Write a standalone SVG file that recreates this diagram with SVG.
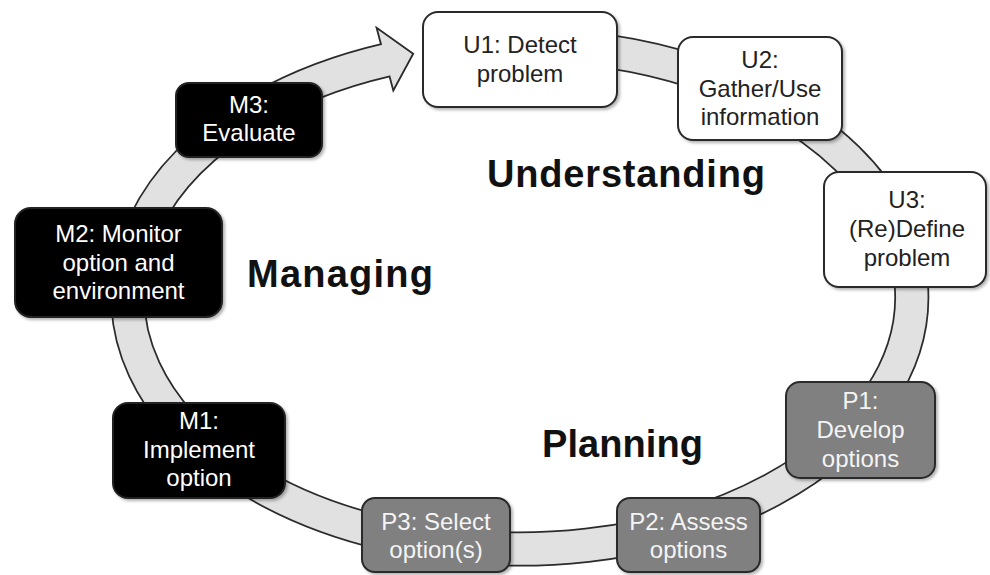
<svg xmlns="http://www.w3.org/2000/svg" width="990" height="575" viewBox="0 0 990 575">
<style>
.t{font-family:"Liberation Sans",Arial,sans-serif;font-size:24px;text-anchor:middle}
.big{font-family:"Liberation Sans",Arial,sans-serif;font-size:38px;font-weight:bold;fill:#111}
.u rect{fill:#fff;stroke:#2a2a2a;stroke-width:2}
.u text{fill:#222}
.p rect{fill:#808080;stroke:#2a2a2a;stroke-width:2}
.p text{fill:#f4f4f4}
.m rect{fill:#000;stroke:#222;stroke-width:2}
.m text{fill:#fff}
.bandO{fill:none;stroke:#2b2b2b;stroke-width:35}
.bandI{fill:none;stroke:#e1e1e1;stroke-width:31.5}
</style>
<defs>
<filter id="sh" x="-10%" y="-10%" width="125%" height="130%">
<feDropShadow dx="2" dy="2" stdDeviation="1.5" flood-color="#000" flood-opacity="0.3"/>
</filter>
</defs>
<rect width="990" height="575" fill="#fff"/>
<g id="connectors">
<path class="bandO" d="M 520 45 A 392 252 0 1 1 387 59.9"/>
<polygon points="376.6,27.8 413.2,53.7 393.3,90.5" fill="#e1e1e1" stroke="#2b2b2b" stroke-width="1.8" stroke-linejoin="miter"/>
<path class="bandI" d="M 520 45 A 392 252 0 1 1 387 59.9"/>
</g>
<g id="labels">
<text class="big" x="487" y="187" textLength="278">Understanding</text>
<text class="big" x="247" y="287" textLength="186">Managing</text>
<text class="big" x="542" y="457" textLength="161">Planning</text>
</g>
<g id="U1" class="u">
<rect x="423" y="12" width="194" height="95" rx="15" filter="url(#sh)"/>
<text class="t" x="520" y="53">U1: Detect</text>
<text class="t" x="520" y="81.5">problem</text>
</g>
<g id="U2" class="u">
<rect x="678" y="37" width="164" height="103" rx="15" filter="url(#sh)"/>
<text class="t" x="760" y="68">U2:</text>
<text class="t" x="760" y="96.5">Gather/Use</text>
<text class="t" x="760" y="125">information</text>
</g>
<g id="U3" class="u">
<rect x="824" y="172" width="162" height="115" rx="15" filter="url(#sh)"/>
<text class="t" x="907" y="208">U3:</text>
<text class="t" x="907" y="237">(Re)Define</text>
<text class="t" x="907" y="265.5">problem</text>
</g>
<g id="P1" class="p">
<rect x="786" y="382" width="149" height="96" rx="14" filter="url(#sh)"/>
<text class="t" x="860.5" y="409">P1:</text>
<text class="t" x="860.5" y="438">Develop</text>
<text class="t" x="860.5" y="466.5">options</text>
</g>
<g id="P2" class="p">
<rect x="617" y="498" width="143" height="74" rx="13" filter="url(#sh)"/>
<text class="t" x="688.5" y="529.5">P2: Assess</text>
<text class="t" x="688.5" y="557.5">options</text>
</g>
<g id="P3" class="p">
<rect x="362" y="498" width="148" height="74" rx="13" filter="url(#sh)"/>
<text class="t" x="436" y="529.5">P3: Select</text>
<text class="t" x="436" y="557.5">option(s)</text>
</g>
<g id="M1" class="m">
<rect x="113" y="403" width="172" height="95" rx="15" filter="url(#sh)"/>
<text class="t" x="199" y="429">M1:</text>
<text class="t" x="199" y="457.5">Implement</text>
<text class="t" x="199" y="486">option</text>
</g>
<g id="M2" class="m">
<rect x="15" y="208" width="207" height="109" rx="16" filter="url(#sh)"/>
<text class="t" x="118.5" y="242">M2: Monitor</text>
<text class="t" x="118.5" y="270.5">option and</text>
<text class="t" x="118.5" y="299">environment</text>
</g>
<g id="M3" class="m">
<rect x="176" y="83" width="146" height="74" rx="13" filter="url(#sh)"/>
<text class="t" x="249" y="113">M3:</text>
<text class="t" x="249" y="141">Evaluate</text>
</g>
</svg>
